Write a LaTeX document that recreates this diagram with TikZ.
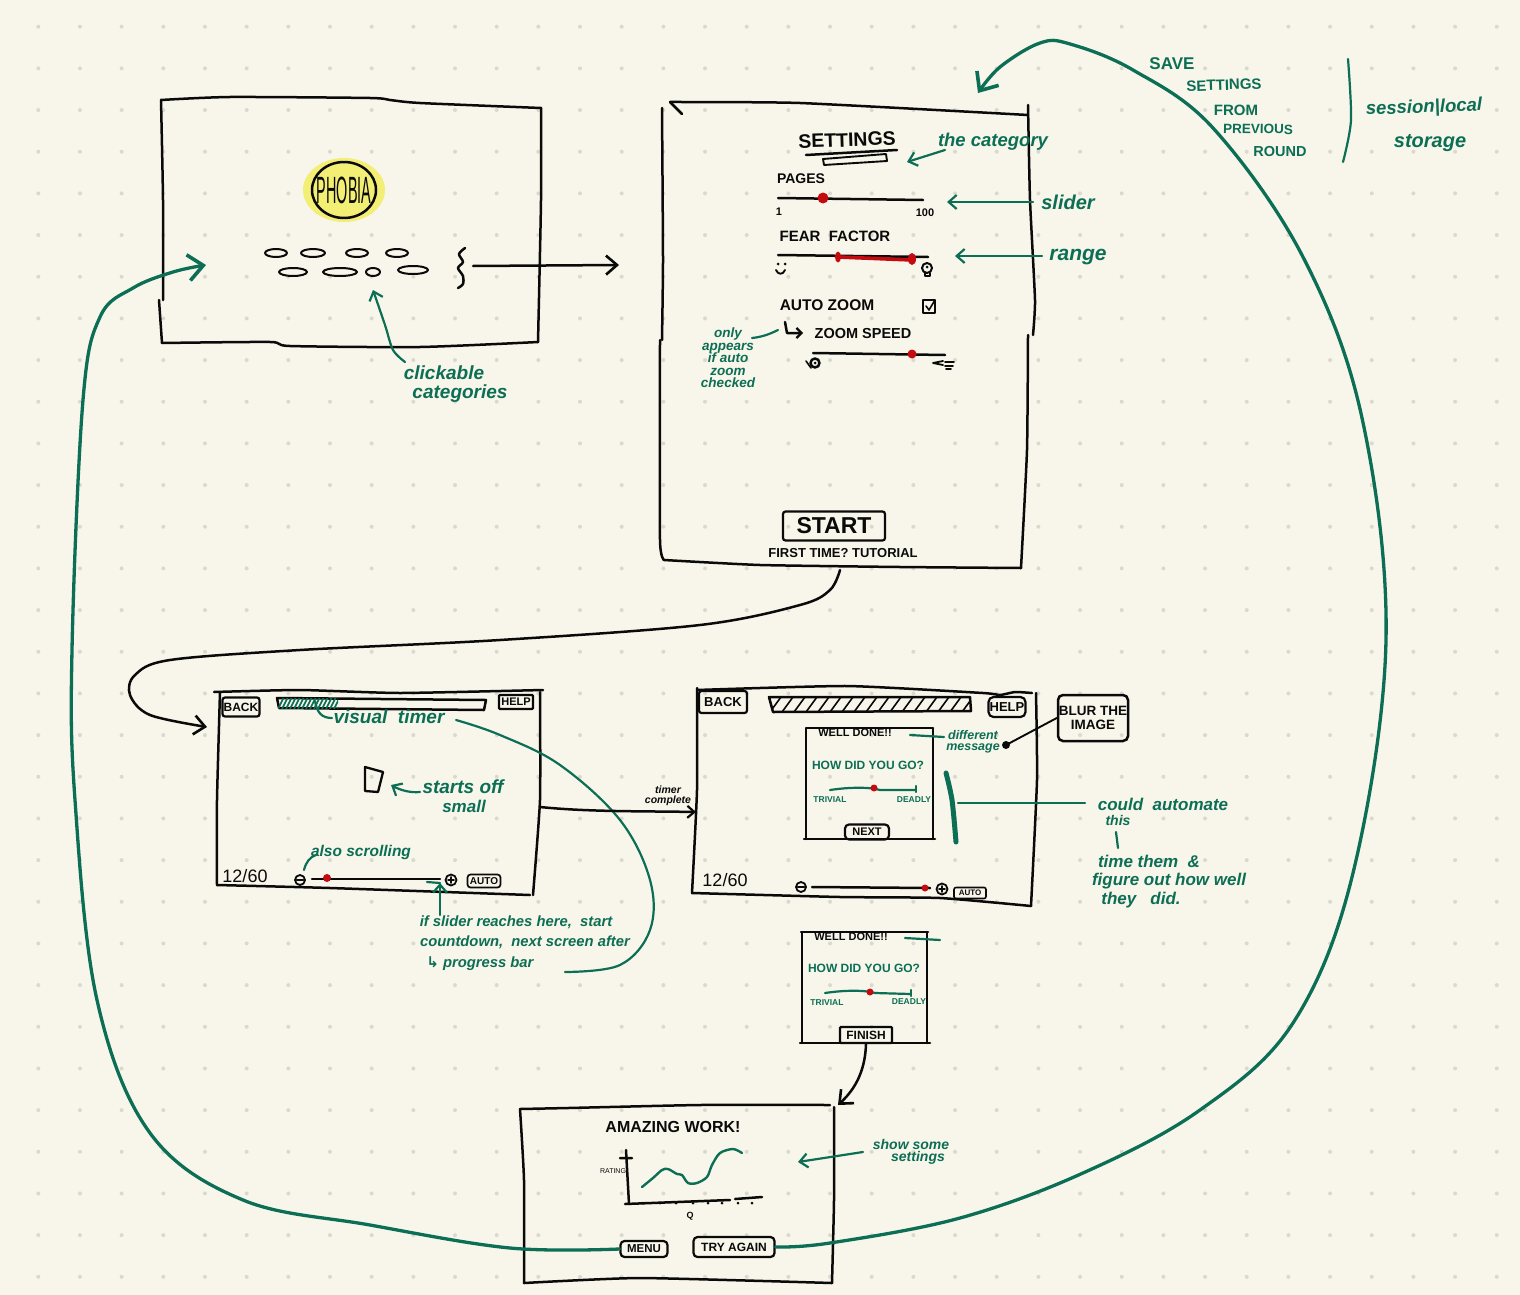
\documentclass[tikz,border=0pt]{standalone}
\usepackage{fontspec}
\setmainfont{Liberation Sans}
\newfontfamily\symf{DejaVu Sans}
\usetikzlibrary{arrows.meta}
\definecolor{paper}{HTML}{F8F6EA}
\definecolor{griddot}{HTML}{DAD9CF}
\definecolor{pen}{HTML}{0A0A0A}
\definecolor{gpen}{HTML}{0C6E55}
\definecolor{rpen}{HTML}{C40C10}
\definecolor{hilite}{HTML}{F3EE74}
\newcommand{\fs}[1]{\fontsize{#1}{#1}\selectfont}
\newcommand{\fb}[1]{\bfseries\fontsize{#1}{#1}\selectfont}
\newcommand{\fg}[1]{\bfseries\itshape\fontsize{#1}{#1}\selectfont}
\tikzset{
  ink/.style={draw=pen,line width=2.5pt,line cap=round,line join=round},
  thinink/.style={draw=pen,line width=1.6pt,line cap=round,line join=round},
  gink/.style={draw=gpen,line width=2.2pt,line cap=round,line join=round},
  bigg/.style={draw=gpen,line width=3.3pt,line cap=round,line join=round},
  khead/.style={-{Straight Barb[length=11pt,width=19pt,line width=2.6pt]}},
  ghead/.style={-{Straight Barb[length=8pt,width=14pt,line width=2.2pt]}},
  bighead/.style={-{Straight Barb[length=15pt,width=26pt,line width=3.6pt]}},
  captxt/.style={text=pen,inner sep=0pt,align=center},
  gtext/.style={text=gpen,inner sep=0pt,align=center},
  btn/.style={draw=pen,line width=2.2pt,rounded corners=2.5pt,inner sep=0pt,text=pen,align=center},
  knob/.style={fill=rpen,draw=none},
}
\begin{document}
\begin{tikzpicture}[x=1pt,y=-1pt]
\useasboundingbox (0,0) rectangle (1520,1295);
\fill[paper] (0,0) rectangle (1520,1295);
\foreach \i in {0,...,36}\foreach \j in {0,...,30}
  \fill[griddot] ({38.3+41.67*\i},{26.7+41.67*\j}) circle[radius=2pt];

% ---------- screen 1: home
\fill[hilite] (344,190) ellipse[x radius=41pt,y radius=32pt];
\draw[ink] plot[smooth,tension=.4] coordinates {(161,100)(230,97)(370,98)(390,100)(420,103)(541,108)};
\draw[ink] plot[smooth,tension=.4] coordinates {(541,108)(541,200)(538,342)};
\draw[ink] plot[smooth,tension=.4] coordinates {(538,342)(420,347)(290,346)(270,342)(162,343)};
\draw[ink] (162,343) -- (159,300);
\draw[ink] plot[smooth,tension=.4] coordinates {(163,300)(163,200)(161,100)};
\draw[ink] (344,190) ellipse[x radius=32pt,y radius=28pt];
\node[captxt,font=\fs{20},xscale=.72,yscale=1.9] (logo) at (344,190) {PHOBIA};
\foreach \x/\y/\r in {276/253/11,313/253/12,357/253/11,397/253/11,293/272/14,340/272/17,373/272/7,413/270/15}
  \draw[thinink,line width=2pt] (\x,\y) ellipse[x radius=\r pt,y radius=4pt];
\draw[ink] plot[smooth] coordinates {(465,248)(459,254)(463,262)(458,268)(463,276)(463,284)(458,288)};
\coordinate (homeout) at (473,266);
\coordinate (settingsin) at (619,265);
\draw[ink,khead] (homeout) -- (settingsin);
\node[gtext,font=\fg{19}] (clickA) at (444,373) {clickable};
\node[gtext,font=\fg{19}] (clickB) at (460,394) {categories};
\draw[gink,ghead] plot[smooth] coordinates {(405,362)(393,350)(385,325)(373,290)};

% ---------- screen 2: settings
\draw[ink] plot[smooth,tension=.3] coordinates {(670,102)(800,103)(1028,115)};
\draw[ink] (670,102) -- (682,114);
\draw[ink] plot[smooth,tension=.3] coordinates {(1028,105)(1030,200)(1035,300)(1033,335)};
\draw[ink] plot[smooth,tension=.3] coordinates {(1028,335)(1027,450)(1021,568)};
\draw[ink] plot[smooth,tension=.3] coordinates {(1021,568)(900,567)(760,565)(664,560)};
\draw[ink] plot[smooth,tension=.3] coordinates {(664,560)(660,540)(660,340)};
\draw[ink] plot[smooth,tension=.3] coordinates {(662,340)(663,260)(662,108)};
\node[captxt,font=\fb{19.5},rotate=2] (settingsT) at (847,140) {SETTINGS};
\draw[ink] (806,155) -- (897,150);
\draw[thinink,line width=1.9pt] (823,159) -- (886,154) -- (887,161) -- (824,165) -- cycle;
\node[captxt,font=\fb{14}] (pages) at (801,179) {PAGES};
\draw[ink] (778,198) -- (923,200);
\fill[knob] (823,198) circle[radius=5.5pt];
\node[captxt,font=\fb{11}] (pmin) at (779,212) {1};
\node[captxt,font=\fb{11}] (pmax) at (925,213) {100};
\node[captxt,font=\fb{15}] (fear) at (835,236) {FEAR\ \ FACTOR};
\draw[ink] (778,255) -- (928,257);
\draw[draw=rpen,line width=3.6pt,line cap=round] (838,257) -- (912,260);
\fill[knob] (838,257) ellipse[x radius=3pt,y radius=5.5pt];
\fill[knob] (912,259) ellipse[x radius=4pt,y radius=6pt];
% smiley
\fill[pen] (778,264) circle[radius=1.5pt] (785,264) circle[radius=1.5pt];
\draw[thinink,line width=1.9pt] (776,270) .. controls (778,275) and (783,275) .. (785,270);
% skull
\draw[thinink,line width=2pt] (927,268) circle[radius=5pt];
\draw[thinink,line width=2pt] (925,273) -- (925,276) -- (930,276) -- (930,273);
\fill[pen] (927,267) circle[radius=1.5pt];
\node[captxt,font=\fb{15.5}] (auto) at (827,305) {AUTO ZOOM};
\draw[ink] (923,300) rectangle (935,313);
\draw[thinink] (926,306) -- (929,310) -- (935,300);
\draw[ink,-{Straight Barb[length=5pt,width=10pt,line width=2.2pt]}] (785,322) -- (787,333) -- (803,333);
\node[captxt,font=\fb{14.5}] (zspeed) at (863,334) {ZOOM SPEED};
\draw[ink] (813,353) -- (945,355);
\fill[knob] (912,354) circle[radius=4.5pt];
\draw[ink] (815,363) circle[radius=4.5pt];
\fill[pen] (815,363) circle[radius=1.5pt];
\draw[thinink] (806,361) -- (811,368);
\draw[thinink,line width=1.8pt] (943,365) -- (933,363) -- (943,361) (945,362) -- (954,362) (945,366) -- (953,366) (946,369) -- (951,369);
\node[btn,font=\fb{23},minimum width=102pt,minimum height=29pt] (start) at (834,526) {START};
\node[captxt,font=\fb{13}] (first) at (843,553) {FIRST TIME? TUTORIAL};
% annotations
\node[gtext,font=\fg{18.5}] (theCat) at (993,142) {the category};
\coordinate (catTail) at (945,150); \coordinate (catTip) at (907,162);
\draw[gink,ghead] (catTail) -- (catTip);
\node[gtext,font=\fg{20}] (sliderL) at (1068,202) {slider};
\coordinate (slTail) at (1033,202); \coordinate (slTip) at (947,202);
\draw[gink,ghead] (slTail) -- (slTip);
\node[gtext,font=\fg{21}] (rangeL) at (1078,257) {range};
\coordinate (rgTail) at (1042,256); \coordinate (rgTip) at (955,256);
\draw[gink,ghead] (rgTail) -- (rgTip);
\node[gtext,font=\fg{13.5},align=center] (onlyL) at (728,358) {only\\[-1pt]appears\\[-1pt]if auto\\[-1pt]zoom\\[-1pt]checked};
\draw[gink] (752,338) .. controls (762,337) and (770,334) .. (778,330);
% top right notes
\node[gtext,font=\fb{17}] (save1) at (1172,64) {SAVE};
\node[gtext,font=\fb{15},rotate=2] (save2) at (1224,85) {SETTINGS};
\node[gtext,font=\fb{15}] (save3) at (1236,110) {FROM};
\node[gtext,font=\fb{13.5},rotate=-1] (save4) at (1258,129) {PREVIOUS};
\node[gtext,font=\fb{14.5}] (save5) at (1280,152) {ROUND};
\draw[gink] plot[smooth] coordinates {(1348,59)(1351,120)(1343,162)};
\node[gtext,font=\fg{18.5},rotate=2] (session) at (1424,108) {session|local};
\node[gtext,font=\fg{20}] (storage) at (1430,143) {storage};

% ---------- screen 3: game
\draw[ink] plot[smooth,tension=.3] coordinates {(214,692)(300,690)(400,693)(543,690)};
\draw[ink] plot[smooth,tension=.3] coordinates {(220,692)(217,800)(217,885)};
\draw[ink] plot[smooth,tension=.3] coordinates {(217,885)(330,888)(530,895)};
\draw[ink] plot[smooth,tension=.3] coordinates {(540,692)(540,800)(533,895)};
\node[btn,font=\fb{12},minimum width=37pt,minimum height=19pt] (back1) at (241,707) {BACK};
\node[btn,font=\fb{11},minimum width=34pt,minimum height=14pt,rounded corners=1pt] (help1) at (516,702) {HELP};
\draw[ink] (277,698) -- (486,700) -- (484,710) -- (279,708) -- cycle;
\begin{scope}
\clip (278,698) rectangle (338,708);
\foreach \k in {278,282,...,346} \draw[gink,line width=1.6pt] (\k,709) -- (\k+6,697);
\end{scope}
\draw[gink] (315,701) .. controls (317,713) and (322,718) .. (332,718);
\node[gtext,font=\fg{19}] (vt) at (389,717) {visual\ \ timer};
\draw[ink,line width=2.3pt] (365,767) -- (383,772) -- (378,792) -- (365,791) -- cycle;
\coordinate (soTail) at (420,792); \coordinate (soTip) at (391,785);
\draw[gink,ghead] (soTail) .. controls (410,793) and (400,790) .. (soTip);
\node[gtext,font=\fg{19}] (so1) at (463,787) {starts off};
\node[gtext,font=\fg{17}] (so2) at (464,806) {small};
\node[captxt,font=\fs{18}] (cnt1) at (245,876) {12/60};
\draw[thinink,line width=1.8pt] (300,880) circle[radius=5pt] (297,880) -- (303,880);
\draw[ink] (312,879) -- (440,879);
\fill[knob] (327,878) circle[radius=4pt];
\draw[thinink,line width=1.8pt] (451,880) circle[radius=5.5pt] (448,880) -- (454,880) (451,877) -- (451,883);
\node[btn,font=\fb{10},minimum width=33pt,minimum height=13pt,rounded corners=3pt,line width=1.7pt] (auto1) at (484,881) {AUTO};
\node[gtext,font=\fg{15.5}] (scr) at (361,852) {also scrolling};
\draw[gink] (304,870) .. controls (306,862) and (310,857) .. (316,855);
\coordinate (ifTail) at (440,915); \coordinate (ifTip) at (440,883);
\draw[gink,ghead] (ifTail) -- (ifTip);
\draw[gink] (427,882) -- (440,883);
\node[gtext,font=\fg{14.8}] (if1) at (516,922) {if slider reaches here,\ \ start};
\node[gtext,font=\fg{14.8}] (if2) at (525,942) {countdown,\ \ next screen after};
\node[gtext,font=\fg{14.8}] (if3) at (480,964) {{\symf ↳} progress bar};
\draw[gink] plot[smooth,tension=.6] coordinates {(456,720)(500,735)(560,765)(620,820)(650,880)(650,930)(620,965)(565,972)};
\coordinate (gameOut) at (540,807); \coordinate (reviewIn) at (696,812);
\draw[ink,-{Straight Barb[length=7pt,width=12pt,line width=2.2pt]}] (gameOut) .. controls (590,812) and (640,811) .. (reviewIn);
\node[captxt,font=\fb{10.5}\itshape] (tc) at (668,796) {timer\\[-1pt]complete};

% ---------- screen 4: review
\draw[ink] plot[smooth,tension=.3] coordinates {(697,690)(847,686)(983,693)(1000,695)(1015,692)(1032,693)};
\draw[ink] plot[smooth,tension=.3] coordinates {(697,688)(697,790)(692,893)};
\draw[ink] plot[smooth,tension=.3] coordinates {(692,893)(840,897)(940,898)(1031,906)};
\draw[ink] plot[smooth,tension=.3] coordinates {(1036,693)(1037,780)(1031,906)};
\node[btn,font=\fb{13},minimum width=48pt,minimum height=22pt] (back2) at (723,702) {BACK};
\node[btn,font=\fb{13},minimum width=37pt,minimum height=20pt,rounded corners=5pt] (help2) at (1007,707) {HELP};
\draw[ink] (769,697) -- (970,697) -- (971,711) -- (773,712) -- cycle;
\begin{scope}
\clip (769,697) -- (970,697) -- (971,711) -- (773,712) -- cycle;
\foreach \k in {770,782,...,974} \draw[thinink] (\k,712) -- (\k+11,697);
\end{scope}
\draw[ink] (806,728) -- (933,728) (806,728) -- (806,839) (933,728) -- (933,839) (804,839) -- (935,839);
\node[captxt,font=\fb{11}] (wd1) at (855,733) {WELL DONE!!};
\draw[gink] (910,735) -- (944,737);
\node[gtext,font=\fg{12.5}] (diff) at (973,742) {different\\[-2pt]message};
\node[gtext,font=\fb{12}] (how1) at (868,765) {HOW DID YOU GO?};
\draw[gink] (830,790) .. controls (850,787) and (870,787) .. (880,790) -- (916,790);
\draw[gink] (916,786) -- (916,792);
\fill[knob] (874,788) circle[radius=3.5pt];
\node[gtext,font=\fb{8.5}] (tr1) at (830,800) {TRIVIAL};
\node[gtext,font=\fb{8.5}] (de1) at (914,800) {DEADLY};
\node[btn,font=\fb{11},minimum width=44pt,minimum height=15pt,rounded corners=4pt] (next) at (867,832) {NEXT};
\node[captxt,draw=pen,line width=2.5pt,rounded corners=5pt,font=\fb{13.5},minimum width=70pt,minimum height=46pt,align=center] (blur) at (1093,718) {BLUR THE\\IMAGE};
\coordinate (blurdot) at (1006,745);
\fill[pen] (blurdot) circle[radius=4pt];
\draw[ink,line width=1.9pt] (blur.west) -- (blurdot);
\draw[bigg,line width=5pt] plot[smooth] coordinates {(946,773)(952,800)(956,842)};
\coordinate (autoFrom) at (958,803); \coordinate (autoTo) at (1085,803);
\draw[gink,line width=2.4pt] (autoFrom) -- (autoTo);
\node[gtext,font=\fg{17}] (ca) at (1163,804) {could\ \ automate};
\node[gtext,font=\fg{14}] (ct) at (1118,820) {this};
\draw[gink] (1116,832) -- (1118,848);
\node[gtext,font=\fg{17}] (tt) at (1149,861) {time them\ \ \&};
\node[gtext,font=\fg{17}] (fo) at (1169,881) {figure out how well};
\node[gtext,font=\fg{17}] (td) at (1141,900) {they\ \ \ did.};
\node[captxt,font=\fs{18}] (cnt2) at (725,880) {12/60};
\draw[thinink,line width=1.8pt] (801,887) circle[radius=5pt] (798,887) -- (804,887);
\draw[ink] (812,887) -- (930,888);
\fill[knob] (925,888) circle[radius=3.5pt];
\draw[thinink,line width=1.8pt] (942,889) circle[radius=5.5pt] (939,889) -- (945,889) (942,886) -- (942,892);
\node[btn,font=\fb{8},minimum width=32pt,minimum height=11pt,rounded corners=2pt,line width=1.6pt] (auto2) at (970,893) {AUTO};

% ---------- dialog 2
\draw[ink] (801,932) -- (928,932) (802,932) -- (802,1043) (927,932) -- (927,1043) (800,1043) -- (930,1043);
\node[captxt,font=\fb{11}] (wd2) at (851,937) {WELL DONE!!};
\draw[gink] (905,938) -- (940,940);
\node[gtext,font=\fb{12}] (how2) at (864,968) {HOW DID YOU GO?};
\draw[gink] (825,993) .. controls (845,990) and (865,990) .. (875,993) -- (911,994);
\draw[gink] (911,990) -- (911,996);
\fill[knob] (870,992) circle[radius=3.5pt];
\node[gtext,font=\fb{8.5}] (tr2) at (827,1003) {TRIVIAL};
\node[gtext,font=\fb{8.5}] (de2) at (909,1002) {DEADLY};
\node[btn,font=\fb{12},minimum width=52pt,minimum height=16pt,rounded corners=1pt] (finish) at (866,1035) {FINISH};
\coordinate (endIn) at (838,1105);
\draw[ink,khead] (finish.south) .. controls (865,1075) and (852,1092) .. (endIn);

% ---------- screen 5: end
\draw[ink] plot[smooth,tension=.3] coordinates {(520,1109)(568,1108)(700,1105)(830,1105)};
\draw[ink] plot[smooth,tension=.3] coordinates {(834,1107)(834,1200)(832,1283)};
\draw[ink] plot[smooth,tension=.3] coordinates {(520,1109)(524,1180)(524,1283)};
\draw[ink] plot[smooth,tension=.3] coordinates {(524,1283)(640,1278)(832,1283)};
\node[captxt,font=\fb{16}] (amz) at (673,1127) {AMAZING WORK!};
\draw[ink] (626,1150) -- (629,1204) (620,1158) -- (632,1158);
\draw[ink] (625,1204) -- (730,1200);
\draw[ink] (735,1199) -- (762,1197);
\foreach \tx in {643,660,676,693,708,722,738,752}
  \fill[pen] (\tx,1203) circle[radius=1.5pt];
\node[captxt,font=\fs{7}] (rat) at (613,1171) {RATING};
\node[captxt,font=\fb{9}] (q) at (690,1216) {Q};
\draw[gink,line width=2.4pt] plot[smooth] coordinates {(642,1187)(653,1178)(662,1170)(668,1169)(677,1174)(682,1175)(688,1183)(697,1183)(707,1177)(712,1165)(720,1153)(733,1149)(742,1153)};
\node[btn,font=\fb{11.5},minimum width=47pt,minimum height=16pt,rounded corners=4pt] (menu) at (644,1249) {MENU};
\node[btn,font=\fb{12},minimum width=81pt,minimum height=20pt,rounded corners=4pt] (again) at (734,1247) {TRY AGAIN};
\node[gtext,font=\fg{14}] (ss1) at (911,1144) {show some};
\node[gtext,font=\fg{14}] (ss2) at (918,1158) {settings};
\coordinate (ssTail) at (863,1152); \coordinate (ssTip) at (798,1162);
\draw[gink,ghead] (ssTail) -- (ssTip);

% ---------- flow connectors
\coordinate (settingsOut) at (840,570);
\coordinate (gameIn) at (207,727);
\draw[ink,khead] plot[smooth,tension=.55] coordinates {(settingsOut)(830,590)(800,605)(700,625)(500,640)(300,650)(170,660)(135,675)(130,695)(150,715)(gameIn)};
\coordinate (homeIn) at (206,265);
\draw[bigg,bighead] plot[smooth,tension=.6] coordinates {(menu.west)(510,1248)(370,1225)(243,1200)(150,1133)(97,1000)(75,800)(72,650)(83,400)(100,317)(133,288)(173,272)(homeIn)};
\coordinate (settingsTop) at (978,93);
\draw[bigg,bighead] plot[smooth,tension=.6] coordinates {(again.east)(830,1243)(960,1218)(1083,1173)(1200,1110)(1293,1023)(1353,873)(1386,640)(1362,418)(1303,257)(1213,128)(1133,70)(1070,44)(1040,43)(1000,67)(settingsTop)};
\end{tikzpicture}
\end{document}
